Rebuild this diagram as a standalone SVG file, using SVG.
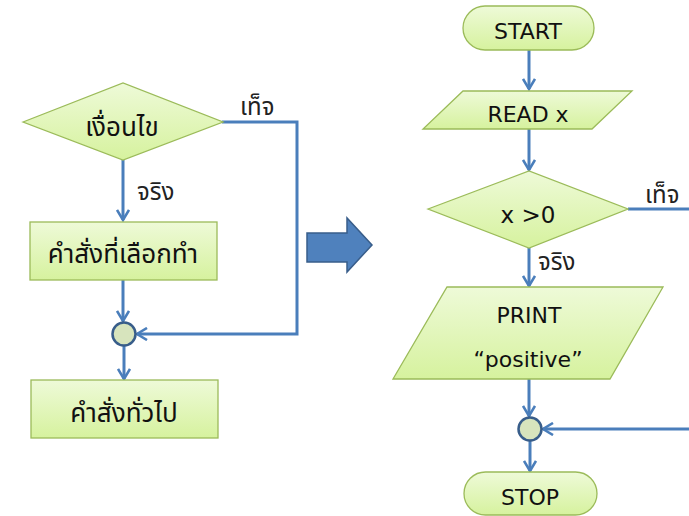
<svg xmlns="http://www.w3.org/2000/svg" width="689" height="516" viewBox="0 0 689 516">
<defs>
<linearGradient id="g" x1="0" y1="0" x2="0" y2="1">
<stop offset="0" stop-color="#eefad8"/>
<stop offset="1" stop-color="#d6f29e"/>
</linearGradient>
<marker id="a" viewBox="0 0 14 14" refX="12" refY="7" markerWidth="14" markerHeight="14" markerUnits="userSpaceOnUse" orient="auto">
<path d="M2,1 L12,7 L2,13" fill="none" stroke="#4a7ebb" stroke-width="2.6"/>
</marker>
</defs>
<style>
.s{fill:url(#g);stroke:#9bbb59;stroke-width:1.3}
.t{font-family:"Noto Sans","Noto Sans Thai",Tahoma,sans-serif;font-size:26px;fill:#111;text-anchor:middle}
.e{font-family:"DejaVu Sans","Noto Sans",sans-serif;font-size:22px;fill:#111;text-anchor:middle}
.l{font-family:"Noto Sans","Noto Sans Thai",Tahoma,sans-serif;font-size:24px;fill:#222}
.c{fill:none;stroke:#4a7ebb;stroke-width:3}
.j{fill:#d7e4bd;stroke:#385d8a;stroke-width:2.5}
</style>
<rect width="689" height="516" fill="#fff"/>
<g id="connectors">
<path class="c" d="M123,160 V220" marker-end="url(#a)"/>
<path class="c" d="M222,122 H297 V334 H137" marker-end="url(#a)"/>
<path class="c" d="M123,280 V321" marker-end="url(#a)"/>
<path class="c" d="M124,346 V379" marker-end="url(#a)"/>
<path class="c" d="M529,50 V89" marker-end="url(#a)"/>
<path class="c" d="M529,129 V170" marker-end="url(#a)"/>
<path class="c" d="M628,209 H689"/>
<path class="c" d="M529,248 V286" marker-end="url(#a)"/>
<path class="c" d="M529,379 V416" marker-end="url(#a)"/>
<path class="c" d="M530,441 V471" marker-end="url(#a)"/>
<path class="c" d="M689,429 H543" marker-end="url(#a)"/>
</g>
<g id="lbl-false-left"><text class="l" x="240" y="115">เท็จ</text></g>
<g id="lbl-true-left"><text class="l" x="137" y="200">จริง</text></g>
<g id="lbl-false-right"><text class="l" x="645" y="203">เท็จ</text></g>
<g id="lbl-true-right"><text class="l" x="538" y="270">จริง</text></g>
<g id="cond"><polygon class="s" points="23,122 123,83 223,122 123,160"/><text class="t" x="122" y="136">เงื่อนไข</text></g>
<g id="selected"><rect class="s" x="30" y="222" width="187" height="58"/><text class="t" x="123" y="263">คำสั่งที่เลือกทำ</text></g>
<g id="join-left"><circle class="j" cx="124" cy="334" r="11.5"/></g>
<g id="general"><rect class="s" x="31" y="380" width="187" height="58"/><text class="t" x="124" y="422">คำสั่งทั่วไป</text></g>
<g id="bigarrow"><polygon points="307,233 347,233 347,218 372,245 347,272 347,262 307,262" fill="#4f81bd" stroke="#385d8a" stroke-width="1.5"/></g>
<g id="start"><rect class="s" x="463" y="6" width="131" height="44" rx="22"/><text class="e" x="528" y="39">START</text></g>
<g id="read"><polygon class="s" points="463,91 632,91 592,129 423,129"/><text class="e" x="528" y="122">READ x</text></g>
<g id="xgt0"><polygon class="s" points="428,209 529,171 628,209 529,248"/><text class="e" x="528" y="223" style="font-size:23px">x &gt;0</text></g>
<g id="print"><polygon class="s" points="447,287 663,287 610,379 393,379"/><text class="e" x="529" y="323">PRINT</text><text class="e" x="528" y="367">“positive”</text></g>
<g id="join-right"><circle class="j" cx="530" cy="429" r="11.5"/></g>
<g id="stop"><rect class="s" x="464" y="472" width="133" height="43" rx="21.5"/><text class="e" x="530" y="505">STOP</text></g>
</svg>
